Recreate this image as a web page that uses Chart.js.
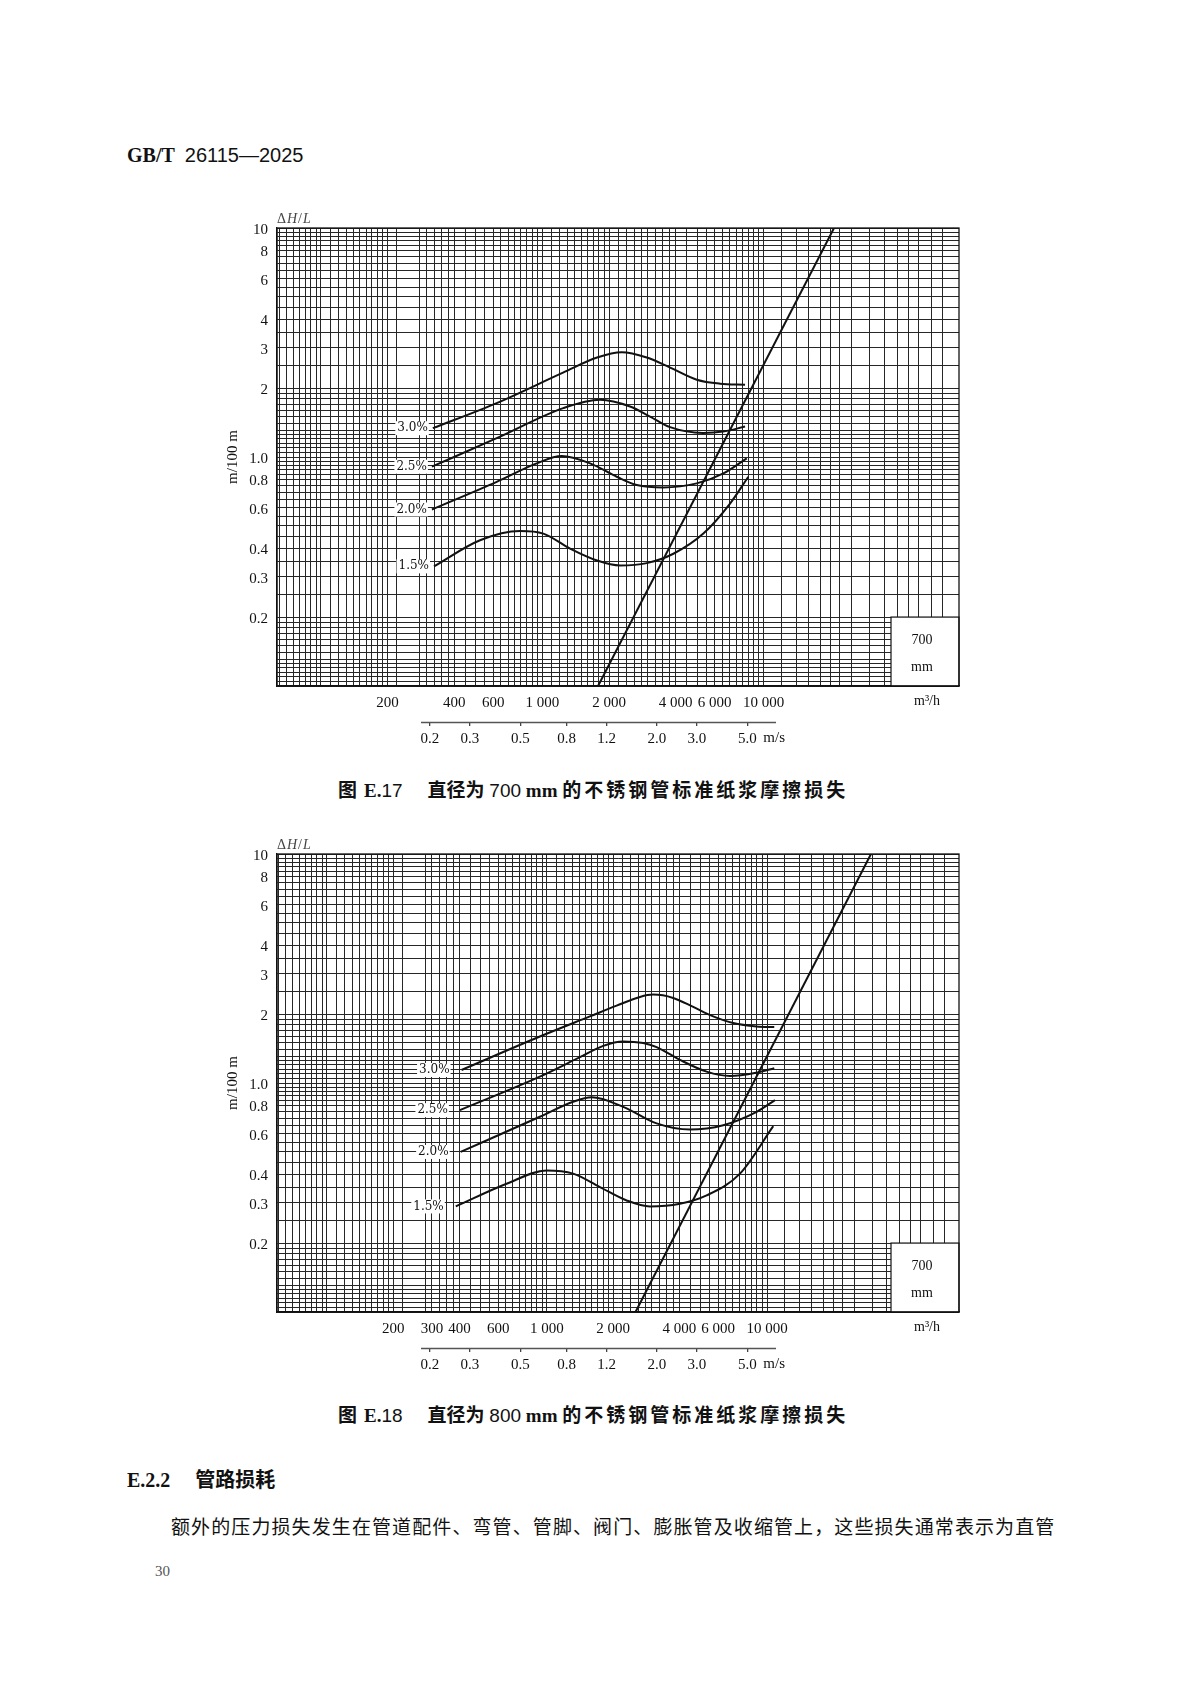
<!DOCTYPE html>
<html>
<head>
<meta charset="utf-8">
<script src="https://cdn.jsdelivr.net/npm/chart.js@4.4.1/dist/chart.umd.min.js"></script>
<style>
  html, body { margin: 0; padding: 0; background: #fff; }
  body { width: 1200px; height: 1696px; position: relative; overflow: hidden; }
  canvas { position: absolute; }
  .t { position: absolute; white-space: nowrap; color: #111; line-height: 24px; }
  .hei { font-family: "Noto Sans CJK SC"; font-weight: bold; }
  .tb { font-family: "Liberation Serif"; font-weight: bold; }
  .ar { font-family: "Liberation Sans"; }
</style>
</head>
<body>

<div class="t" style="left:127px; top:143px; font-size:20px;"><span class="tb">GB/T</span>&nbsp; <span class="ar">26115—2025</span></div>

<canvas id="c700" width="840" height="560" style="left:160px; top:205px; width:840px; height:560px;"></canvas>
<div class="t" style="left:338px; top:777px; font-size:19px;"><span class="hei">图</span><span class="tb" style="margin-left:7px">E.</span><span class="ar">17</span><span class="hei" style="margin-left:25px">直径为</span> <span class="ar">700</span> <span class="tb">mm</span> <span class="hei" style="letter-spacing:3px">的不锈钢管标准纸浆摩擦损失</span></div>

<canvas id="c800" width="840" height="560" style="left:160px; top:831px; width:840px; height:560px;"></canvas>
<div class="t" style="left:338px; top:1402px; font-size:19px;"><span class="hei">图</span><span class="tb" style="margin-left:7px">E.</span><span class="ar">18</span><span class="hei" style="margin-left:25px">直径为</span> <span class="ar">800</span> <span class="tb">mm</span> <span class="hei" style="letter-spacing:3px">的不锈钢管标准纸浆摩擦损失</span></div>

<div class="t" style="left:127px; top:1467px; font-size:20px;"><span class="tb">E.2.2</span><span class="hei" style="margin-left:25px">管路损耗</span></div>
<div class="t" style="left:171px; top:1514px; font-size:19px; letter-spacing:1.1px; font-family:'Noto Sans CJK SC';">额外的压力损失发生在管道配件、弯管、管脚、阀门、膨胀管及收缩管上，这些损失通常表示为直管</div>
<div class="t" style="left:155px; top:1559px; font-size:15px; color:#555; font-family:'Liberation Serif';">30</div>

<script>
// ---- axis ticks and labels ----
const yTicks = [10, 8, 6, 4, 3, 2, 1, 0.8, 0.6, 0.4, 0.3, 0.2];
const yTickText = ['10', '8', '6', '4', '3', '2', '1.0', '0.8', '0.6', '0.4', '0.3', '0.2'];

const flowTicks700 = [200, 400, 600, 1000, 2000, 4000, 6000, 10000];
const flowText700 = ['200', '400', '600', '1 000', '2 000', '4 000', '6 000', '10 000'];
const flowTicks800 = [200, 300, 400, 600, 1000, 2000, 4000, 6000, 10000];
const flowText800 = ['200', '300', '400', '600', '1 000', '2 000', '4 000', '6 000', '10 000'];

const speedTicks = [0.2, 0.3, 0.5, 0.8, 1.2, 2.0, 3.0, 5.0];
const speedText = ['0.2', '0.3', '0.5', '0.8', '1.2', '2.0', '3.0', '5.0'];

const curveNames = ['3.0%', '2.5%', '2.0%', '1.5%'];

// log paper grid (mantissas per decade)
const yGridMant = [1, 1.05, 1.1, 1.15, 1.2, 1.25, 1.3, 1.4, 1.5, 1.6, 1.7, 1.8, 1.9, 2, 2.5, 3, 3.5, 4, 4.5, 5, 5.5, 6, 6.5, 7, 7.5, 8, 8.4, 8.8, 9.2, 9.6];
const yGridDecades = [0.1, 1];
const xGridMant = [1, 1.1, 1.2, 1.3, 1.4, 1.5, 1.6, 1.7, 1.8, 1.9, 2, 2.2, 2.4, 2.6, 2.8, 3, 3.25, 3.5, 3.75, 4, 4.5, 5, 5.5, 6, 6.5, 7, 7.5, 8, 8.5, 9, 9.5];
const xGridMantGap = [1, 1.1, 1.2, 1.3, 1.4, 1.5, 1.6, 1.7, 1.8, 1.9, 2, 2.2, 2.8, 3, 3.25, 3.5, 3.75, 4, 4.5, 5, 5.5, 6, 6.5, 7, 7.5, 8, 8.5, 9, 9.5];
const xGridMantTop = [1, 1.2, 1.4, 1.6, 1.8, 2, 2.2, 2.5, 3, 3.5, 4, 4.5, 5, 5.7, 6.4];

// ---- 700 mm curves: flow m3/h, head loss m/100 m ----
const q700_30 = [320, 622, 1240, 1767, 2284, 2962, 3775, 4983, 6348, 8233];
const h700_30 = [1.336, 1.720, 2.335, 2.718, 2.867, 2.718, 2.457, 2.176, 2.090, 2.069];
const q700_25 = [317, 622, 1244, 1822, 2490, 3065, 3775, 5319, 6551, 8233];
const h700_25 = [0.907, 1.208, 1.635, 1.778, 1.662, 1.502, 1.350, 1.274, 1.291, 1.358];
const q700_20 = [317, 622, 943, 1224, 1642, 2168, 2669, 3520, 4983, 6571, 8380];
const h700_20 = [0.590, 0.779, 0.938, 1.010, 0.938, 0.820, 0.754, 0.736, 0.767, 0.848, 0.987];
const q700_15 = [324, 523, 793, 1010, 1334, 1767, 2244, 2962, 3906, 5336, 7043, 8519];
const h700_15 = [0.333, 0.433, 0.475, 0.463, 0.398, 0.353, 0.336, 0.344, 0.378, 0.463, 0.626, 0.820];
const q700_lim = [1785, 20770];
const h700_lim = [0.1, 10];

// ---- 800 mm curves ----
const q800_30 = [409, 928, 1567, 2072, 2644, 3039, 3747, 4618, 5692, 7020, 8969, 10784];
const h800_30 = [1.140, 1.596, 1.954, 2.176, 2.376, 2.432, 2.352, 2.148, 1.954, 1.827, 1.766, 1.755];
const q800_25 = [402, 928, 1411, 1801, 2220, 2737, 3149, 4019, 5314, 6782, 8969, 10784];
const h800_25 = [0.761, 1.066, 1.296, 1.453, 1.518, 1.494, 1.434, 1.262, 1.121, 1.073, 1.110, 1.160];
const q800_20 = [405, 928, 1315, 1595, 2220, 3149, 4461, 6323, 8969, 10864];
const h800_20 = [0.500, 0.712, 0.828, 0.866, 0.787, 0.666, 0.626, 0.654, 0.748, 0.842];
const q800_15 = [385, 655, 996, 1315, 1740, 2301, 2937, 4019, 5314, 7531, 10671];
const h800_15 = [0.289, 0.363, 0.415, 0.402, 0.351, 0.307, 0.289, 0.297, 0.323, 0.402, 0.648];
const q800_lim = [2525, 29670];
const h800_lim = [0.1, 10];

const INK = '#111';
const GRID = '#262626';
const TICK_FONT = { family: 'Liberation Serif', size: 15 };

function sameVal(a, b) { return Math.abs(a / b - 1) < 1e-6; }

function labelFor(values, texts) {
  return v => {
    const i = values.findIndex(t => sameVal(t, v));
    return i >= 0 ? texts[i] : '';
  };
}

function yGrid() {
  const out = [];
  yGridDecades.forEach(d => yGridMant.forEach(m => out.push(+(d * m).toPrecision(6))));
  out.push(10);
  return out;
}

function xGrid(min, max) {
  const byDecade = [[10, xGridMant], [100, xGridMantGap], [1000, xGridMant], [10000, xGridMantTop]];
  const out = [];
  byDecade.forEach(([d, list]) => list.forEach(m => out.push(+(d * m).toPrecision(6))));
  return out.filter(v => v > min && v < max);
}

function pts(xs, ys) { return xs.map((x, i) => ({ x: x, y: ys[i] })); }

// texts and extra strokes placed through the chart scales
const decorPlugin = {
  id: 'decor',
  beforeDatasetsDraw(chart, args, o) {
    const { ctx, chartArea: a, scales } = chart;
    ctx.save();
    // pipe size box, bottom right
    const bx = a.right - 68;
    const by = scales.y.getPixelForValue(0.2);
    ctx.fillStyle = '#fff';
    ctx.fillRect(bx, by, a.right - bx, a.bottom - by);
    ctx.strokeStyle = INK;
    ctx.lineWidth = 1.2;
    ctx.strokeRect(bx, by, a.right - bx, a.bottom - by);
    ctx.fillStyle = INK;
    ctx.font = '14px "Liberation Serif"';
    ctx.textAlign = 'center';
    ctx.textBaseline = 'middle';
    ctx.fillText(o.size[0], (bx + a.right) / 2 - 3, by + (a.bottom - by) * 0.34);
    ctx.fillText(o.size[1], (bx + a.right) / 2 - 3, by + (a.bottom - by) * 0.73);
    // frame
    ctx.lineWidth = 1.3;
    ctx.strokeRect(a.left, a.top, a.right - a.left, a.bottom - a.top);
    ctx.restore();
  },
  afterDatasetsDraw(chart, args, o) {
    const { ctx, chartArea: a, scales } = chart;
    ctx.save();
    // curve labels
    ctx.font = '12px "DejaVu Serif"';
    ctx.textBaseline = 'middle';
    curveNames.forEach((name, i) => {
      const p = chart.getDatasetMeta(i).data[0];
      const w = ctx.measureText(name).width;
      const xr = p.x - o.gap;
      ctx.fillStyle = '#fff';
      ctx.fillRect(xr - w - 2, p.y - 7, w + 3, 14);
      ctx.fillStyle = INK;
      ctx.textAlign = 'right';
      ctx.fillText(name, xr, p.y);
    });
    // axis caption above y axis: ΔH/L
    let x = a.left;
    const yT = a.top - 9;
    ctx.fillStyle = '#444';
    ctx.textAlign = 'left';
    [['Δ', ''], ['H', 'italic '], ['/', ''], ['L', 'italic ']].forEach(([s, st]) => {
      ctx.font = st + '14px "Liberation Serif"';
      ctx.fillText(s, x, yT);
      x += ctx.measureText(s).width + 1;
    });
    // flow unit
    ctx.fillStyle = INK;
    ctx.font = '14px "Liberation Serif"';
    ctx.textAlign = 'right';
    ctx.fillText('m³/h', a.right - 19, a.bottom + 15);
    // speed axis line (partial) and unit
    const v = scales.v;
    ctx.strokeStyle = '#555';
    ctx.lineWidth = 1.6;
    ctx.beginPath();
    ctx.moveTo(v.getPixelForValue(o.vFrom), v.top + 0.5);
    ctx.lineTo(v.getPixelForValue(o.vTo), v.top + 0.5);
    ctx.stroke();
    ctx.font = '15px "Liberation Serif"';
    ctx.textAlign = 'left';
    ctx.fillText('m/s', v.getPixelForValue(5.0) + 16, v.top + 16);
    ctx.restore();
  }
};

function makeChart(id, c) {
  const line = (xs, ys, straight) => ({
    data: pts(xs, ys),
    borderColor: INK,
    borderWidth: 2,
    pointRadius: 0,
    fill: false,
    tension: straight ? 0 : 0.4,
    cubicInterpolationMode: straight ? 'default' : 'monotone'
  });

  return new Chart(document.getElementById(id), {
    type: 'line',
    data: {
      datasets: [
        line(c.curves[0][0], c.curves[0][1]),
        line(c.curves[1][0], c.curves[1][1]),
        line(c.curves[2][0], c.curves[2][1]),
        line(c.curves[3][0], c.curves[3][1]),
        line(c.limit[0], c.limit[1], true)
      ]
    },
    options: {
      responsive: false,
      animation: false,
      events: [],
      layout: { padding: { left: 0, top: 23, right: 41, bottom: 3 } },
      plugins: {
        legend: { display: false },
        tooltip: { enabled: false },
        decor: { size: ['700', 'mm'], gap: c.gap, vFrom: 0.1826, vTo: 6.69 }
      },
      scales: {
        x: {
          type: 'logarithmic',
          position: 'bottom',
          min: c.xMin,
          max: c.xMax,
          afterBuildTicks: s => { s.ticks = xGrid(c.xMin, c.xMax).map(v => ({ value: v })); },
          afterFit: s => { s.height = 36; },
          ticks: {
            autoSkip: false,
            maxRotation: 0,
            minRotation: 0,
            padding: 8,
            color: INK,
            font: TICK_FONT,
            callback: labelFor(c.flowTicks, c.flowText)
          },
          grid: { color: GRID, lineWidth: 1, drawTicks: false },
          border: { display: true, color: INK, width: 1.3 }
        },
        v: {
          type: 'logarithmic',
          axis: 'x',
          position: 'bottom',
          min: 0.04237,
          max: 42.80,
          afterBuildTicks: s => { s.ticks = speedTicks.map(v => ({ value: v })); },
          afterFit: s => { s.height = 40; },
          ticks: {
            autoSkip: false,
            maxRotation: 0,
            minRotation: 0,
            padding: 4,
            color: INK,
            font: TICK_FONT,
            callback: labelFor(speedTicks, speedText)
          },
          grid: { drawOnChartArea: false, drawTicks: true, tickLength: 4, color: '#444', lineWidth: 1.3 },
          border: { display: false }
        },
        y: {
          type: 'logarithmic',
          position: 'left',
          min: 0.1,
          max: 10,
          afterBuildTicks: s => { s.ticks = yGrid().map(v => ({ value: v })); },
          afterFit: s => { s.width = 117; },
          ticks: {
            autoSkip: false,
            padding: 9,
            labelOffset: 2,
            color: INK,
            font: TICK_FONT,
            callback: labelFor(yTicks, yTickText)
          },
          grid: { color: GRID, lineWidth: 1, drawTicks: false },
          border: { display: true, color: INK, width: 1.3 },
          title: {
            display: true,
            text: 'm/100 m',
            color: INK,
            font: { family: 'Liberation Serif', size: 15 },
            padding: { top: 64, bottom: 0 }
          }
        }
      }
    },
    plugins: [decorPlugin]
  });
}

makeChart('c700', {
  xMin: 63.3, xMax: 76200, gap: 5,
  flowTicks: flowTicks700, flowText: flowText700,
  curves: [[q700_30, h700_30], [q700_25, h700_25], [q700_20, h700_20], [q700_15, h700_15]],
  limit: [q700_lim, h700_lim]
});

makeChart('c800', {
  xMin: 59.3, xMax: 74530, gap: 12,
  flowTicks: flowTicks800, flowText: flowText800,
  curves: [[q800_30, h800_30], [q800_25, h800_25], [q800_20, h800_20], [q800_15, h800_15]],
  limit: [q800_lim, h800_lim]
});
</script>
</body>
</html>
